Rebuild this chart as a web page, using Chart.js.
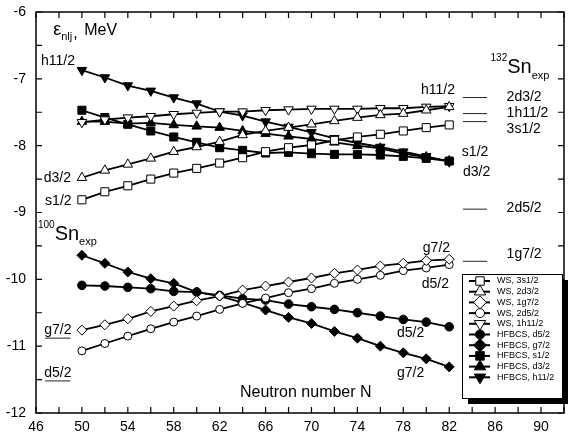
<!DOCTYPE html>
<html><head><meta charset="utf-8">
<script src="https://cdn.jsdelivr.net/npm/chart.js@4/dist/chart.umd.min.js"></script>
<style>html,body{margin:0;padding:0;background:#fff}</style>
</head><body>
<canvas id="c" width="574" height="439"></canvas>
<script>
// ---- data ----
const neutronN = [50,52,54,56,58,60,62,64,66,68,70,72,74,76,78,80,82];
const wsS12  = [-8.81,-8.69,-8.60,-8.50,-8.41,-8.34,-8.26,-8.18,-8.09,-8.03,-7.99,-7.92,-7.87,-7.83,-7.78,-7.73,-7.69];
const wsD32  = [-8.48,-8.37,-8.28,-8.19,-8.09,-8.02,-7.94,-7.84,-7.78,-7.73,-7.68,-7.63,-7.58,-7.54,-7.52,-7.47,-7.42];
const wsG72  = [-10.76,-10.68,-10.59,-10.48,-10.40,-10.32,-10.25,-10.16,-10.10,-10.04,-9.98,-9.91,-9.86,-9.80,-9.76,-9.72,-9.70];
const wsD52  = [-11.07,-10.96,-10.85,-10.74,-10.64,-10.55,-10.45,-10.36,-10.28,-10.20,-10.14,-10.06,-10.00,-9.94,-9.87,-9.83,-9.78];
const wsH112 = [-7.65,-7.61,-7.58,-7.56,-7.53,-7.51,-7.49,-7.49,-7.47,-7.46,-7.45,-7.45,-7.45,-7.44,-7.44,-7.42,-7.41];
const hfD52  = [-10.09,-10.10,-10.12,-10.14,-10.18,-10.19,-10.24,-10.29,-10.31,-10.37,-10.41,-10.45,-10.50,-10.55,-10.60,-10.64,-10.71];
const hfG72  = [-9.64,-9.76,-9.89,-9.99,-10.06,-10.19,-10.25,-10.35,-10.46,-10.57,-10.66,-10.78,-10.88,-11.00,-11.10,-11.19,-11.31];
const hfS12  = [-7.47,-7.58,-7.68,-7.78,-7.87,-7.95,-8.03,-8.07,-8.11,-8.10,-8.12,-8.13,-8.13,-8.14,-8.16,-8.19,-8.23];
const hfD32  = [-7.64,-7.64,-7.67,-7.66,-7.69,-7.71,-7.73,-7.78,-7.82,-7.86,-7.90,-7.95,-8.00,-8.04,-8.12,-8.17,-8.23];
const hfH112 = [-6.87,-6.98,-7.10,-7.18,-7.28,-7.37,-7.49,-7.55,-7.64,-7.72,-7.80,-7.89,-7.96,-8.02,-8.09,-8.16,-8.24];

const sn132Names = ['2d3/2','1h11/2','3s1/2','2d5/2','1g7/2'];
const sn132Exp   = [-7.28,-7.52,-7.64,-8.95,-9.73];
const sn100Names = ['g7/2','d5/2'];
const sn100Exp   = [-10.88,-11.52];
const expSpan132 = [83.2, 85.3];
const expSpan100 = [46.8, 49.0];

const xTickLabels = [46,50,54,58,62,66,70,74,78,82,86,90];
const yTickLabels = [-12,-11,-10,-9,-8,-7,-6];
const legendLabels = ['WS, 3s1/2','WS, 2d3/2','WS, 1g7/2','WS, 2d5/2','WS, 1h11/2',
                      'HFBCS, d5/2','HFBCS, g7/2','HFBCS, s1/2','HFBCS, d3/2','HFBCS, h11/2'];

// ---- styling ----
const FONT = "'Liberation Sans', Arial, Helvetica, sans-serif";
const seriesData = [wsS12, wsD32, wsG72, wsD52, wsH112, hfD52, hfG72, hfS12, hfD32, hfH112];
const seriesStyle = [
  {ps:'rect', rot:0, fill:false, r:5.7},
  {ps:'triangle', rot:0, fill:false, r:5.5},
  {ps:'rectRot', rot:0, fill:false, r:5},
  {ps:'circle', rot:0, fill:false, r:4},
  {ps:'triangle', rot:180, fill:false, r:5.5},
  {ps:'circle', rot:0, fill:true, r:4.3},
  {ps:'rectRot', rot:0, fill:true, r:5},
  {ps:'rect', rot:0, fill:true, r:5.7},
  {ps:'triangle', rot:0, fill:true, r:5.5},
  {ps:'triangle', rot:180, fill:true, r:5.5},
];

const datasets = seriesData.map((arr, i) => {
  const s = seriesStyle[i];
  return {
    label: legendLabels[i],
    data: arr.map((v, k) => ({x: neutronN[k], y: v})),
    borderColor: '#000', borderWidth: 1.8, tension: 0,
    pointStyle: s.ps, pointRotation: s.rot, pointRadius: s.r, pointHoverRadius: s.r,
    pointBackgroundColor: s.fill ? '#000' : '#fff', pointBorderColor: '#000', pointBorderWidth: 1
  };
});
sn132Exp.forEach((v) => datasets.push({
  data: expSpan132.map(x => ({x, y: v})), borderColor: '#222', borderWidth: 1, pointRadius: 0
}));
sn100Exp.forEach((v) => datasets.push({
  data: expSpan100.map(x => ({x, y: v})), borderColor: '#222', borderWidth: 1, pointRadius: 0
}));

// text annotations in data coordinates
const textLabels = [
  {t:'h11/2', x:49.4, y:-6.79, a:'right', b:'alphabetic'},
  {t:'d3/2',  x:49.05, y:-8.54, a:'right', b:'alphabetic'},
  {t:'s1/2',  x:49.1, y:-8.89, a:'right', b:'alphabetic'},
  {t:'h11/2', x:82.5, y:-7.17, a:'right', b:'middle'},
  {t:'s1/2',  x:83.1, y:-8.09, a:'left', b:'middle'},
  {t:'d3/2',  x:83.2, y:-8.40, a:'left', b:'middle'},
  {t:'g7/2',  x:79.7, y:-9.53, a:'left', b:'middle'},
  {t:'d5/2',  x:79.6, y:-10.07, a:'left', b:'middle'},
  {t:'d5/2',  x:77.45, y:-10.80, a:'left', b:'middle'},
  {t:'g7/2',  x:77.45, y:-11.40, a:'left', b:'middle'},
];
const sn132LabelOffset = [0, 0, -0.11, 0.02, 0.11];

function drawMarker(ctx, s, x, y, r) {
  ctx.save();
  ctx.translate(x, y);
  ctx.rotate(s.rot * Math.PI / 180);
  ctx.beginPath();
  if (s.ps === 'circle') ctx.arc(0, 0, r, 0, Math.PI * 2);
  else if (s.ps === 'rect') { const h = r * Math.SQRT1_2; ctx.rect(-h, -h, 2*h, 2*h); }
  else if (s.ps === 'rectRot') { ctx.moveTo(0,-r); ctx.lineTo(r,0); ctx.lineTo(0,r); ctx.lineTo(-r,0); ctx.closePath(); }
  else if (s.ps === 'triangle') {
    for (let k = 0; k < 3; k++) {
      const a = k * 2 * Math.PI / 3;
      const px = Math.sin(a) * r, py = -Math.cos(a) * r;
      if (k === 0) ctx.moveTo(px, py); else ctx.lineTo(px, py);
    }
    ctx.closePath();
  }
  ctx.fillStyle = s.fill ? '#000' : '#fff';
  ctx.fill();
  ctx.lineWidth = 1; ctx.strokeStyle = '#000';
  ctx.stroke();
  ctx.restore();
}

const decor = {
  id: 'decor',
  afterDraw(chart) {
    const ctx = chart.ctx, ca = chart.chartArea;
    const xs = chart.scales.x, ys = chart.scales.y;
    const X = v => xs.getPixelForValue(v), Y = v => ys.getPixelForValue(v);
    ctx.save();
    // frame
    ctx.strokeStyle = '#000'; ctx.lineWidth = 1.5;
    ctx.strokeRect(ca.left, ca.top, ca.right - ca.left, ca.bottom - ca.top);
    // ticks (inward)
    ctx.lineWidth = 1.2;
    ctx.beginPath();
    for (let v = 46; v <= 92; v += 2) {
      const px = X(v);
      ctx.moveTo(px, ca.bottom); ctx.lineTo(px, ca.bottom - 6);
      ctx.moveTo(px, ca.top); ctx.lineTo(px, ca.top + 6);
    }
    for (let v = -12; v <= -6; v += 0.5) {
      const py = Y(v);
      ctx.moveTo(ca.left, py); ctx.lineTo(ca.left + 6, py);
      ctx.moveTo(ca.right, py); ctx.lineTo(ca.right - 6, py);
    }
    ctx.stroke();

    ctx.fillStyle = '#000';
    // y tick labels
    ctx.font = '14px ' + FONT; ctx.textAlign = 'right'; ctx.textBaseline = 'middle';
    yTickLabels.forEach(v => ctx.fillText(String(v), ca.left - 10, Y(v)));

    // curve labels
    textLabels.forEach(l => {
      ctx.textAlign = l.a; ctx.textBaseline = l.b;
      ctx.fillText(l.t, X(l.x), Y(l.y));
    });
    // 132Sn exp labels
    ctx.textAlign = 'left'; ctx.textBaseline = 'middle';
    sn132Names.forEach((n, i) => ctx.fillText(n, X(87.0), Y(sn132Exp[i] + sn132LabelOffset[i])));
    // 100Sn exp labels (above short lines)
    ctx.textAlign = 'center'; ctx.textBaseline = 'alphabetic';
    sn100Names.forEach((n, i) => ctx.fillText(n, X((expSpan100[0] + expSpan100[1]) / 2), Y(sn100Exp[i]) - 4));

    // axis title inside
    ctx.font = '16px ' + FONT; ctx.textAlign = 'left'; ctx.textBaseline = 'middle';
    ctx.fillText('Neutron number N', X(63.77), Y(-11.70));

    // epsilon label
    ctx.textBaseline = 'alphabetic';
    let ex = X(47.5), ey = Y(-6.34);
    ctx.font = '18px ' + FONT; ctx.fillText('\u03b5', ex, ey);
    ex += ctx.measureText('\u03b5').width;
    ctx.font = '11px ' + FONT; ctx.fillText('nlj', ex, ey + 5);
    ex += ctx.measureText('nlj').width;
    ctx.font = '16px ' + FONT; ctx.fillText(',', ex + 1, ey + 3);
    ctx.fillText('MeV', ex + 12, ey);

    // 100Sn exp
    let sx = X(46.17), sy = Y(-9.41);
    ctx.font = '10px ' + FONT; ctx.fillText('100', sx, sy - 12);
    sx += ctx.measureText('100').width;
    ctx.font = '20px ' + FONT; ctx.fillText('Sn', sx, sy);
    sx += ctx.measureText('Sn').width;
    ctx.font = '11px ' + FONT; ctx.fillText('exp', sx, sy + 5);

    // 132Sn exp
    sx = X(85.6); sy = Y(-6.91);
    ctx.font = '10px ' + FONT; ctx.fillText('132', sx, sy - 12);
    sx += ctx.measureText('132').width;
    ctx.font = '20px ' + FONT; ctx.fillText('Sn', sx, sy);
    sx += ctx.measureText('Sn').width;
    ctx.font = '11px ' + FONT; ctx.fillText('exp', sx, sy + 6);

    // legend box with shadow
    const bw = 100, bh = 124;
    const bx = ca.right - 102, by = ca.bottom - 15 - bh;
    ctx.fillStyle = '#000'; ctx.fillRect(bx + 6, by + 6, bw, bh);
    ctx.fillStyle = '#fff'; ctx.fillRect(bx, by, bw, bh);
    ctx.strokeStyle = '#000'; ctx.lineWidth = 1; ctx.strokeRect(bx + 0.5, by + 0.5, bw, bh);
    ctx.font = '9px ' + FONT; ctx.textAlign = 'left'; ctx.textBaseline = 'middle';
    legendLabels.forEach((lab, i) => {
      const ly = by + 7 + i * 10.7;
      ctx.strokeStyle = '#000'; ctx.lineWidth = 2;
      ctx.beginPath(); ctx.moveTo(bx + 7, ly); ctx.lineTo(bx + 28, ly); ctx.stroke();
      const s = seriesStyle[i];
      const r = s.ps === 'circle' ? 4.5 : (s.ps === 'rect' ? 6 : 6.5);
      drawMarker(ctx, s, bx + 18, ly, r);
      ctx.fillStyle = '#000';
      ctx.fillText(lab, bx + 35, ly);
    });
    ctx.restore();
  }
};

new Chart(document.getElementById('c'), {
  type: 'line',
  data: { datasets },
  options: {
    responsive: false, animation: false, devicePixelRatio: 1,
    layout: { padding: { top: 12, right: 10, left: 0, bottom: 0 } },
    plugins: { legend: { display: false }, tooltip: { enabled: false } },
    scales: {
      x: {
        type: 'linear', min: 46, max: 92,
        grid: { display: false, drawTicks: false, tickLength: 0 }, border: { display: false },
        ticks: {
          stepSize: 2, autoSkip: false, maxRotation: 0, padding: 6, color: '#000',
          font: { family: FONT, size: 14 },
          callback: v => xTickLabels.includes(v) ? String(v) : ''
        },
        afterFit: s => { s.height = 26; }
      },
      y: {
        type: 'linear', min: -12, max: -6,
        grid: { display: false, drawTicks: false, tickLength: 0 }, border: { display: false },
        ticks: { display: false, stepSize: 0.5 },
        afterFit: s => { s.width = 36; }
      }
    }
  },
  plugins: [decor]
});
</script>
</body></html>
